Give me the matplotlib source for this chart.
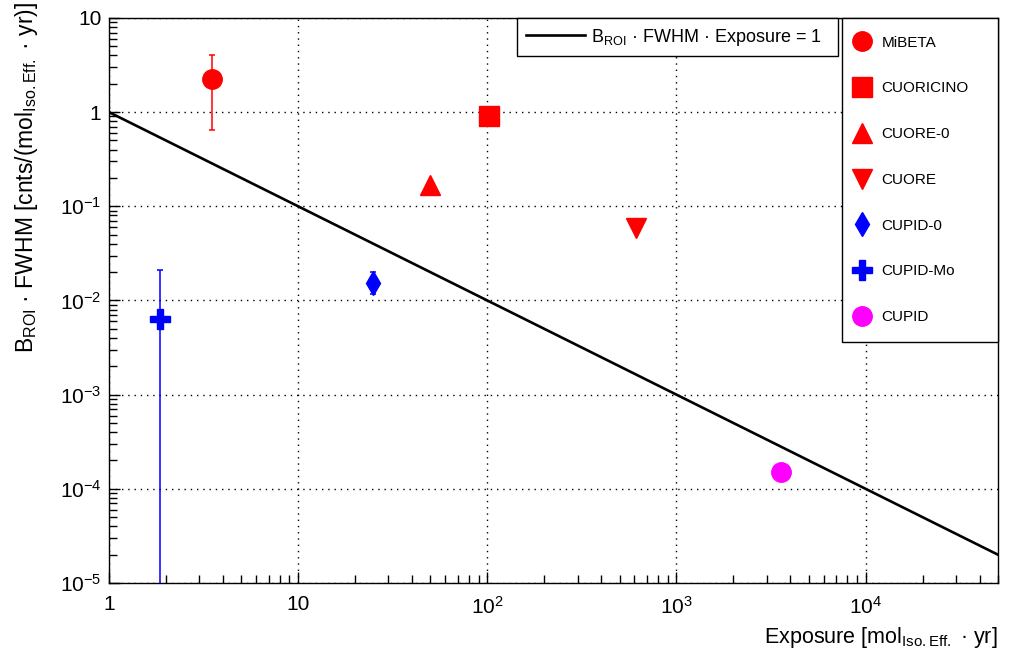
import numpy as np
import matplotlib
matplotlib.use("Agg")
import matplotlib.pyplot as plt
from matplotlib.ticker import LogLocator, FuncFormatter, NullFormatter

plt.rcParams["font.family"] = ["Liberation Sans", "DejaVu Sans"]
plt.rcParams["mathtext.fontset"] = "custom"
plt.rcParams["mathtext.rm"] = "Liberation Sans"
plt.rcParams["mathtext.it"] = "Liberation Sans:italic"
plt.rcParams["mathtext.bf"] = "Liberation Sans:bold"

# experiments: exposure [mol_iso.eff * yr] and B_ROI * FWHM
names = ["MiBETA", "CUORICINO", "CUORE-0", "CUORE", "CUPID-0", "CUPID-Mo", "CUPID"]
exposure = [3.5, 102, 50, 610, 25, 1.85, 3550]
bkg_fwhm = [2.24, 0.90, 0.17, 0.059, 0.0155, 0.0063, 1.5e-4]
bkg_low = [0.65, 0.90, 0.17, 0.059, 0.0116, 0.0, 1.5e-4]
bkg_high = [4.0, 0.90, 0.17, 0.059, 0.020, 0.021, 1.5e-4]
markers = ["o", "s", "^", "v", "d", "P", "o"]
colors = ["#ff0000", "#ff0000", "#ff0000", "#ff0000", "#0000ff", "#0000ff", "#ff00ff"]
sizes = [14, 14.5, 14, 14, 12, 14, 14]

# reference line B*FWHM*Exposure = const
line_const = 1.0
x_range = [1, 5e4]

fig = plt.figure(figsize=(10.12, 6.56), dpi=100)
ax = fig.add_axes([0.1077, 0.1113, 0.8783, 0.8613])
ax.set_xscale("log")
ax.set_yscale("log")
ax.set_xlim(*x_range)
ax.set_ylim(1e-5, 10)

xl = np.logspace(np.log10(x_range[0]), np.log10(x_range[1]), 50)
line, = ax.plot(xl, line_const / xl, color="black", lw=1.9, zorder=3)

handles = []
for i, n in enumerate(names):
    lo = max(bkg_fwhm[i] - bkg_low[i], 0)
    hi = bkg_high[i] - bkg_fwhm[i]
    if lo > 0 or hi > 0:
        ax.errorbar([exposure[i]], [bkg_fwhm[i]], yerr=[[lo], [hi]], fmt="none",
                    ecolor=colors[i], elinewidth=1.1, capsize=2, capthick=1.1, zorder=4)
    h, = ax.plot([exposure[i]], [bkg_fwhm[i]], linestyle="none", marker=markers[i],
                 ms=sizes[i], color=colors[i], mec=colors[i], zorder=5, label=n)
    handles.append(h)

ax.grid(True, which="major", color="black", linestyle=(0, (1, 3.5)), linewidth=1.0)


def fmt(v, pos):
    e = int(round(np.log10(v)))
    if e == 0:
        return "1"
    if e == 1:
        return "10"
    return r"$10^{%d}$" % e


ax.xaxis.set_major_locator(LogLocator(base=10, numticks=20))
ax.yaxis.set_major_locator(LogLocator(base=10, numticks=20))
ax.xaxis.set_minor_locator(LogLocator(base=10, subs=np.arange(2, 10), numticks=20))
ax.yaxis.set_minor_locator(LogLocator(base=10, subs=np.arange(2, 10), numticks=20))
ax.xaxis.set_major_formatter(FuncFormatter(fmt))
ax.yaxis.set_major_formatter(FuncFormatter(fmt))
ax.xaxis.set_minor_formatter(NullFormatter())
ax.yaxis.set_minor_formatter(NullFormatter())
ax.tick_params(which="both", direction="in", labelsize=15, width=1.0)
ax.tick_params(which="major", length=8)
ax.tick_params(which="minor", length=6)
ax.tick_params(axis="x", which="major", pad=9)
ax.tick_params(axis="y", which="major", pad=5.5)
for s in ax.spines.values():
    s.set_linewidth(1.0)

ax.set_xlabel(r"Exposure [mol$_{\mathrm{Iso.Eff.}}$ · yr]", loc="right", fontsize=15.5)
ax.xaxis.set_label_coords(1.0, -0.074)
ax.set_ylabel(r"B$_{\mathrm{ROI}}$ · FWHM [cnts/(mol$_{\mathrm{Iso.Eff.}}$ · yr)]",
              loc="top", fontsize=16.5)
ax.yaxis.set_label_coords(-0.078, 1.029)

leg1 = ax.legend([line], [r"B$_{\mathrm{ROI}}$ · FWHM · Exposure = 1"],
                 loc="upper left", bbox_to_anchor=(0.459, 0.0, 0.361, 1.0), mode="expand",
                 fontsize=13, fancybox=False, framealpha=1, edgecolor="black",
                 handlelength=3.3, handletextpad=0.3, borderpad=0.48, borderaxespad=0)
leg1.get_frame().set_linewidth(1.0)
ax.add_artist(leg1)

leg2 = ax.legend(handles=handles, loc="upper left", bbox_to_anchor=(0.8245, 0.0, 0.1755, 1.0),
                 mode="expand", fontsize=11, fancybox=False, framealpha=1, edgecolor="black",
                 labelspacing=2.08, borderpad=1.15, borderaxespad=0, handlelength=0.3,
                 handletextpad=1.15, markerscale=1.0)
leg2.get_frame().set_linewidth(1.0)

fig.savefig("out.png", dpi=100)
